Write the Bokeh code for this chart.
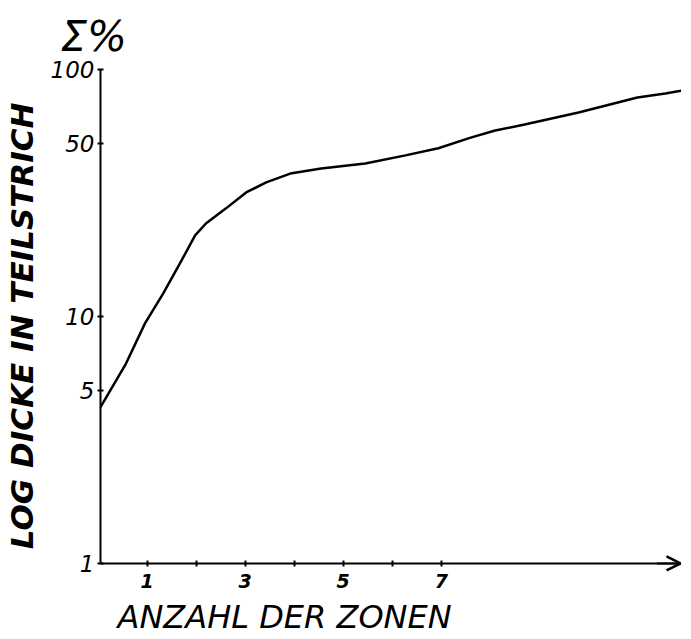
from bokeh.plotting import figure
from bokeh.models import Range1d, FixedTicker, Arrow, OpenHead, Title, LinearAxis
from bokeh.embed import file_html
from bokeh.resources import INLINE

# data
zones = [0.05, 0.57, 0.96, 1.33, 1.67, 1.98, 2.2, 2.61, 3.02, 3.43, 3.92, 4.55,
         5.45, 6.27, 6.94, 7.6, 8.1, 8.7, 9.8, 10.6, 11.0, 11.57, 12.04]
dicke = [4.3, 6.45, 9.4, 12.4, 16.4, 21.3, 23.8, 27.4, 31.8, 34.9, 37.9, 39.7,
         41.6, 44.9, 48.0, 53.0, 56.6, 59.9, 67.0, 73.5, 77.0, 80.0, 83.0]
x_ticks = [1, 3, 5, 7]
x_minor = [2, 4, 6]
y_ticks = [1, 5, 10, 50, 100]

FONT = "DejaVu Sans"

p = figure(frame_width=581, frame_height=502, output_backend="svg", toolbar_location=None,
           x_range=Range1d(0.05, 11.9), y_range=Range1d(0.928, 100), y_axis_type="log",
           min_border_left=94, min_border_right=0, min_border_top=69, min_border_bottom=0)
p.outline_line_color = None
p.xgrid.visible = False
p.ygrid.visible = False
p.background_fill_color = "white"

p.line(zones, dicke, line_color="black", line_width=2.5)

xax = p.xaxis[0]
yax = p.yaxis[0]
for ax in (xax, yax):
    ax.axis_line_color = "black"
    ax.axis_line_width = 2
    ax.major_tick_line_width = 2
    ax.minor_tick_line_width = 2
    ax.major_tick_in = 3
    ax.major_tick_out = 3
    ax.minor_tick_in = 3
    ax.minor_tick_out = 3
    ax.major_label_text_font = FONT
    ax.major_label_text_font_style = "italic"
    ax.major_label_text_color = "black"

# x axis line and ticks sit at y = 1; its labels come from a second axis below
xax.fixed_location = 1
xax.ticker = FixedTicker(ticks=x_ticks, minor_ticks=x_minor)
xax.major_label_text_color = None

lab = LinearAxis(ticker=FixedTicker(ticks=x_ticks, minor_ticks=[]),
                 axis_line_color=None, major_tick_line_color=None,
                 minor_tick_line_color=None, major_tick_in=0, major_tick_out=0,
                 major_label_text_font=FONT, major_label_text_font_size="19px",
                 major_label_text_font_style="bold italic",
                 major_label_text_color="black", major_label_standoff=2)
p.add_layout(lab, "below")

yax.bounds = (1, 100)
yax.ticker = FixedTicker(ticks=y_ticks, minor_ticks=[])
yax.major_label_text_font_size = "23px"
yax.major_label_standoff = 3
yax.axis_label = "LOG DICKE IN  TEILSTRICH"
yax.axis_label_text_font = FONT
yax.axis_label_text_color = "black"
yax.axis_label_text_font_size = "31px"
yax.axis_label_text_font_style = "bold italic"
yax.axis_label_standoff = 8

# x axis title placed like the hand lettering (left of centre)
xt = Title(text="ANZAHL DER  ZONEN", align="left", offset=17, text_font=FONT,
           text_font_size="32px", text_font_style="italic", text_color="black",
           text_line_height=0.8, standoff=10)
p.add_layout(xt, "below")

# Σ% above the y axis
p.title.text = "Σ%"
p.title.align = "left"
p.title.offset = -40
p.title.text_font = FONT
p.title.text_font_size = "42px"
p.title.text_font_style = "italic"
p.title.text_color = "black"
p.title.text_line_height = 0.8
p.title.standoff = 18

p.add_layout(Arrow(end=OpenHead(size=14, line_width=2.5, line_color="black"),
                   x_start=11.4, y_start=1, x_end=11.88, y_end=1,
                   line_width=2, line_color="black"))

open("out.html", "w").write(file_html(p, INLINE))
